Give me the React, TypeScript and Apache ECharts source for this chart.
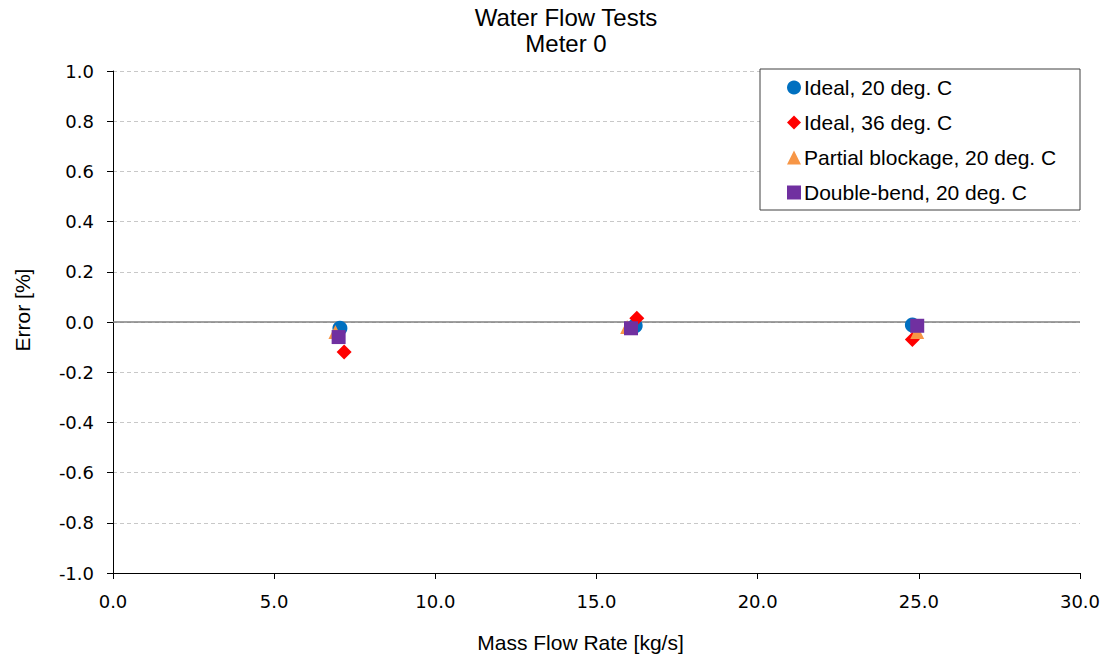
import React, { useEffect, useRef } from "react";
import * as echarts from "echarts";

const seriesNames = [
  "Ideal, 20 deg. C",
  "Ideal, 36 deg. C",
  "Partial blockage, 20 deg. C",
  "Double-bend, 20 deg. C",
];
const ideal20: [number, number][] = [
  [7.04, -0.025],
  [16.2, -0.015],
  [24.8, -0.012],
];
const ideal36: [number, number][] = [
  [7.17, -0.12],
  [16.25, 0.015],
  [24.8, -0.07],
];
const partial20: [number, number][] = [
  [6.9, -0.04],
  [15.95, -0.02],
  [24.95, -0.04],
];
const doubleBend20: [number, number][] = [
  [7.0, -0.06],
  [16.07, -0.025],
  [24.95, -0.015],
];
const colors = ["#0070C0", "#FF0000", "#F79646", "#7030A0"];
const symbols = ["circle", "diamond", "triangle", "rect"];
const sizes = [15, 15, 14, 14];

export default function App() {
  const ref = useRef<HTMLDivElement>(null);
  useEffect(() => {
    const chart = echarts.init(ref.current!, null, { renderer: "svg" });
    const datasets = [ideal20, ideal36, partial20, doubleBend20];
    const tickFont = "DejaVu Sans";
    chart.setOption({
      animation: false,
      backgroundColor: "#fff",
      title: {
        text: "Water Flow Tests\nMeter 0",
        left: 566,
        textAlign: "center",
        top: 4,
        padding: 0,
        textStyle: {
          fontFamily: "Liberation Sans",
          fontSize: 24,
          fontWeight: "normal",
          color: "#000",
          lineHeight: 26,
        },
      },
      graphic: [
        {
          type: "rect",
          shape: { x: 760, y: 69, width: 320, height: 141 },
          style: { fill: "#fff", stroke: "#404040", lineWidth: 1 },
          z: 50,
        },
      ],
      legend: {
        orient: "vertical",
        left: 782,
        top: 72,
        itemWidth: 14,
        itemHeight: 14,
        itemGap: 14,
        z: 60,
        data: seriesNames.map((n, i) => ({ name: n, icon: symbols[i] })),
        textStyle: {
          fontFamily: "Liberation Sans",
          fontSize: 21,
          color: "#000",
          padding: [0, 0, 0, -2],
        },
      },
      grid: { left: 113, right: 26, top: 71, bottom: 85 },
      xAxis: {
        type: "value",
        min: 0,
        max: 30,
        interval: 5,
        name: "Mass Flow Rate [kg/s]",
        nameLocation: "middle",
        nameGap: 59,
        nameTextStyle: {
          fontFamily: "Liberation Sans",
          fontSize: 21,
          color: "#000",
          padding: [0, 32, 0, 0],
        },
        axisLine: { show: true, onZero: false, lineStyle: { color: "#000", width: 1 } },
        axisTick: { show: true, inside: false, length: 6, lineStyle: { color: "#000" } },
        axisLabel: {
          formatter: (v: number) => v.toFixed(1),
          fontFamily: tickFont,
          fontSize: 18,
          color: "#000",
          margin: 19,
        },
        splitLine: { show: false },
      },
      yAxis: {
        type: "value",
        min: -1,
        max: 1,
        interval: 0.2,
        name: "Error [%]",
        nameLocation: "middle",
        nameGap: 80,
        nameTextStyle: {
          fontFamily: "Liberation Sans",
          fontSize: 21,
          color: "#000",
          padding: [0, 0, 0, 24],
        },
        axisLine: { show: true, lineStyle: { color: "#000", width: 1 } },
        axisTick: { show: true, inside: false, length: 6, lineStyle: { color: "#000" } },
        axisLabel: {
          formatter: (v: number) => v.toFixed(1),
          fontFamily: tickFont,
          fontSize: 18,
          color: "#000",
          margin: 19,
        },
        splitLine: { show: true, lineStyle: { color: "#c8c8c8", type: [4, 3], width: 1 } },
      },
      series: seriesNames.map((n, i) => ({
        name: n,
        type: "scatter",
        symbol: symbols[i],
        symbolSize: sizes[i],
        itemStyle: { color: colors[i], opacity: 1 },
        data: datasets[i],
        z: 10 + i,
        ...(i === 0
          ? {
              markLine: {
                silent: true,
                symbol: "none",
                label: { show: false },
                lineStyle: { color: "#808080", type: "solid", width: 1.5 },
                data: [{ yAxis: 0 }],
                z: 1,
              },
            }
          : {}),
      })),
    });
    return () => chart.dispose();
  }, []);
  return (
    <div
      ref={ref}
      style={{ position: "fixed", left: 0, top: 0, width: 1106, height: 658 }}
    />
  );
}
